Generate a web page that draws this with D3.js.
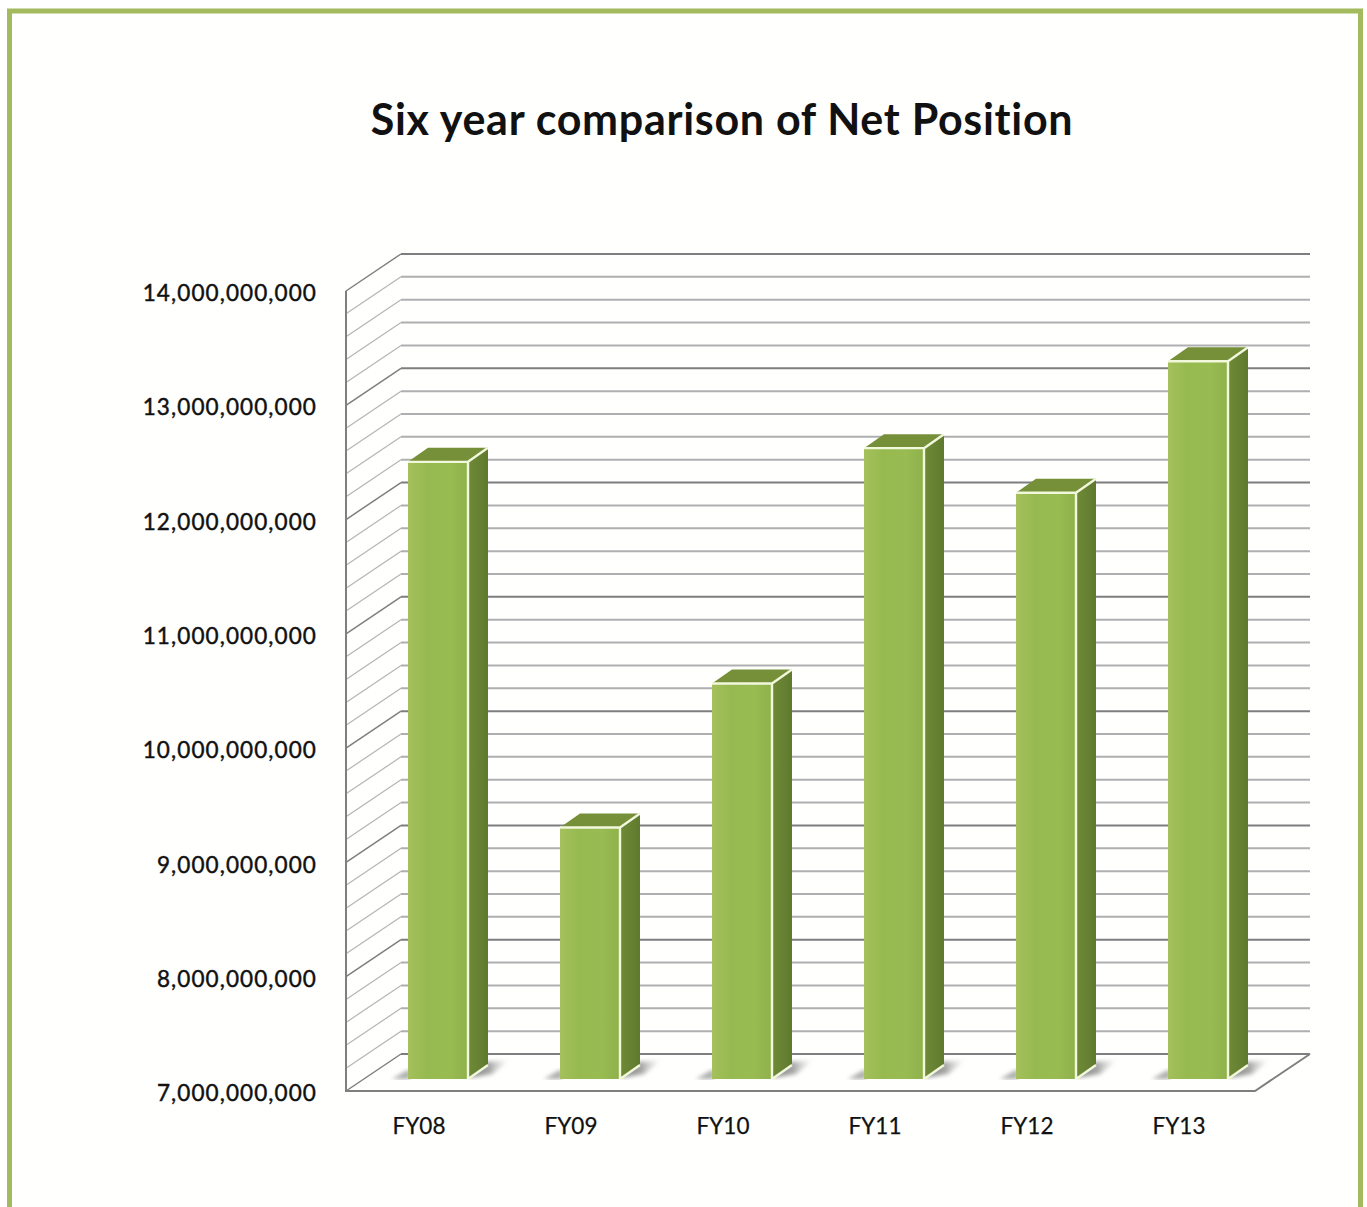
<!DOCTYPE html>
<html>
<head>
<meta charset="utf-8">
<style>
  html, body { margin: 0; padding: 0; background: #fff; }
  svg { display: block; }
  text { font-family: Lato, "Open Sans", sans-serif; fill: #111; }
</style>
<script src="https://cdn.jsdelivr.net/npm/d3@7"></script>
</head>
<body>
<svg id="chart" width="1367" height="1207"></svg>
<script>
// Net position by fiscal year, in dollars
const years = ["FY08", "FY09", "FY10", "FY11", "FY12", "FY13"];
const netPosition = [12400000000, 9200000000, 10460000000, 12520000000, 12130000000, 13280000000];
const majorTicks = [7000000000, 8000000000, 9000000000, 10000000000, 11000000000, 12000000000, 13000000000, 14000000000];
const gridStep = 200000000;
const titleText = "Six year comparison of Net Position";

const svg = d3.select("#chart");
const defs = svg.append("defs");

// Frame
svg.append("rect").attr("x", 9.5).attr("y", 11).attr("width", 1351).attr("height", 1230)
  .attr("fill", "#fffffd").attr("stroke", "#a3ba5e").attr("stroke-width", 5);

svg.append("text").attr("x", 722).attr("y", 135)
  .attr("text-anchor", "middle").attr("font-size", 43).attr("font-weight", 700)
  .style("letter-spacing", "0.7px")
  .text(titleText);

// Oblique projection: the back wall is shifted up and right of the front edge,
// and each column stands partway between the two.
const wall = { dx: 55, dy: -37 };
const barDepth = { dx: 20, dy: -14 };
const barInset = { dx: 0, dy: -12 };

const y = d3.scaleLinear().domain([7000000000, 14000000000]).range([1091, 291]);
const x = d3.scaleBand().domain(years).range([342, 1254]);
const floorRight = 1255, floorLeft = 346;

// Grid: thin slanted lines on the left wall, heavier lines across the back wall
const gridValues = d3.range(0, 36).map(i => 7000000000 + i * gridStep);
const isMajor = v => v % 1000000000 === 0;
const grid = svg.append("g").attr("fill", "none");
gridValues.forEach(v => {
  grid.append("line")
    .attr("x1", floorLeft).attr("y1", y(v))
    .attr("x2", floorLeft + wall.dx).attr("y2", y(v) + wall.dy)
    .attr("stroke", isMajor(v) ? "#7d7f80" : "#b3b5b6")
    .attr("stroke-width", isMajor(v) ? 1.5 : 1.2);
  grid.append("line")
    .attr("x1", floorLeft + wall.dx).attr("y1", y(v) + wall.dy)
    .attr("x2", floorRight + wall.dx).attr("y2", y(v) + wall.dy)
    .attr("stroke", isMajor(v) ? "#7c7e7f" : "#adafb0")
    .attr("stroke-width", 2);
});

// Floor outline and left edge
svg.append("path")
  .attr("d", d3.line()([
    [floorLeft, y(14000000000)],
    [floorLeft, y(7000000000)],
    [floorRight, y(7000000000)],
    [floorRight + wall.dx, y(7000000000) + wall.dy]
  ]))
  .attr("fill", "none").attr("stroke", "#7d7f80").attr("stroke-width", 2);

// Column fills
const frontGrad = defs.append("linearGradient").attr("id", "barFront");
[[0, "#a5c05c"], [0.3, "#97ba50"], [0.7, "#98bb52"], [1, "#8fb04b"]].forEach(([o, c]) =>
  frontGrad.append("stop").attr("offset", o).attr("stop-color", c));
const sideGrad = defs.append("linearGradient").attr("id", "barSide");
[[0, "#6f8a36"], [1, "#5f7a2e"]].forEach(([o, c]) =>
  sideGrad.append("stop").attr("offset", o).attr("stop-color", c));
const shadowGrad = defs.append("linearGradient").attr("id", "barShadow");
[[0, "#808181", 1], [0.5, "#8c8d8d", 0.8], [1, "#ccc", 0]].forEach(([o, c, a]) =>
  shadowGrad.append("stop").attr("offset", o).attr("stop-color", c).attr("stop-opacity", a));
defs.append("filter").attr("id", "soft").append("feGaussianBlur").attr("stdDeviation", 2.2);

const barW = 60;
const barLeft = d => x(d) + x.bandwidth() / 2 - 10;
const base = y(7000000000) + barInset.dy;
const topOf = v => y(v) + barInset.dy;

const bars = svg.append("g").selectAll("g")
  .data(years.map((name, i) => ({ name, value: netPosition[i] })))
  .join("g");

// Contact shadows on the floor
bars.append("path")
  .attr("d", d => {
    const r = barLeft(d.name) + barW;
    return d3.line()([[r, base - 1], [r + 18, base - 17], [r + 42, base - 19], [r + 24, base - 5]]);
  })
  .attr("fill", "url(#barShadow)").attr("filter", "url(#soft)");
bars.append("path")
  .attr("d", d => {
    const l = barLeft(d.name);
    return d3.line()([[l - 16, base], [l + 2, base], [l + 2, base - 10]]);
  })
  .attr("fill", "#8d8f8e").attr("opacity", 0.75).attr("filter", "url(#soft)");

// Top, side and front faces
bars.append("path")
  .attr("d", d => {
    const l = barLeft(d.name), t = topOf(d.value);
    return d3.line()([[l, t], [l + barDepth.dx, t + barDepth.dy], [l + barW + barDepth.dx, t + barDepth.dy], [l + barW, t]]) + "Z";
  })
  .attr("fill", "#768f39");
bars.append("path")
  .attr("d", d => {
    const r = barLeft(d.name) + barW, t = topOf(d.value);
    return d3.line()([[r, t], [r + barDepth.dx, t + barDepth.dy], [r + barDepth.dx, base + barDepth.dy], [r, base]]) + "Z";
  })
  .attr("fill", "url(#barSide)");
bars.append("rect")
  .attr("x", d => barLeft(d.name))
  .attr("y", d => topOf(d.value))
  .attr("width", barW)
  .attr("height", d => base - topOf(d.value))
  .attr("fill", "url(#barFront)");

// Pale highlights along the column edges
bars.append("path")
  .attr("d", d => {
    const l = barLeft(d.name), r = l + barW, t = topOf(d.value);
    return d3.line()([[l, t], [r, t], [r, base]]) + `M${r},${t}L${r + barDepth.dx},${t + barDepth.dy}M${r},${base}L${r + barDepth.dx},${base + barDepth.dy}`;
  })
  .attr("fill", "none").attr("stroke", "#f2f8dc").attr("stroke-width", 2.4);

// Axis labels
const yAxis = svg.append("g").attr("transform", "translate(317,2.5)")
  .call(d3.axisLeft(y).tickValues(majorTicks).tickSize(0).tickPadding(0).tickFormat(d3.format(",")));
yAxis.select(".domain").remove();
yAxis.selectAll("text").attr("font-size", 22.5).attr("font-weight", 400)
  .style("font-family", "Lato, sans-serif").style("letter-spacing", "1.1px")
  .attr("fill", "#111").attr("stroke", "#111").attr("stroke-width", 0.45);

const xAxis = svg.append("g").attr("transform", "translate(1,1118)")
  .call(d3.axisBottom(x).tickSize(0).tickPadding(0));
xAxis.select(".domain").remove();
xAxis.selectAll("text").attr("font-size", 22.5).attr("font-weight", 400)
  .style("font-family", "Lato, sans-serif").attr("fill", "#111").attr("stroke", "#111").attr("stroke-width", 0.25);
</script>
</body>
</html>
